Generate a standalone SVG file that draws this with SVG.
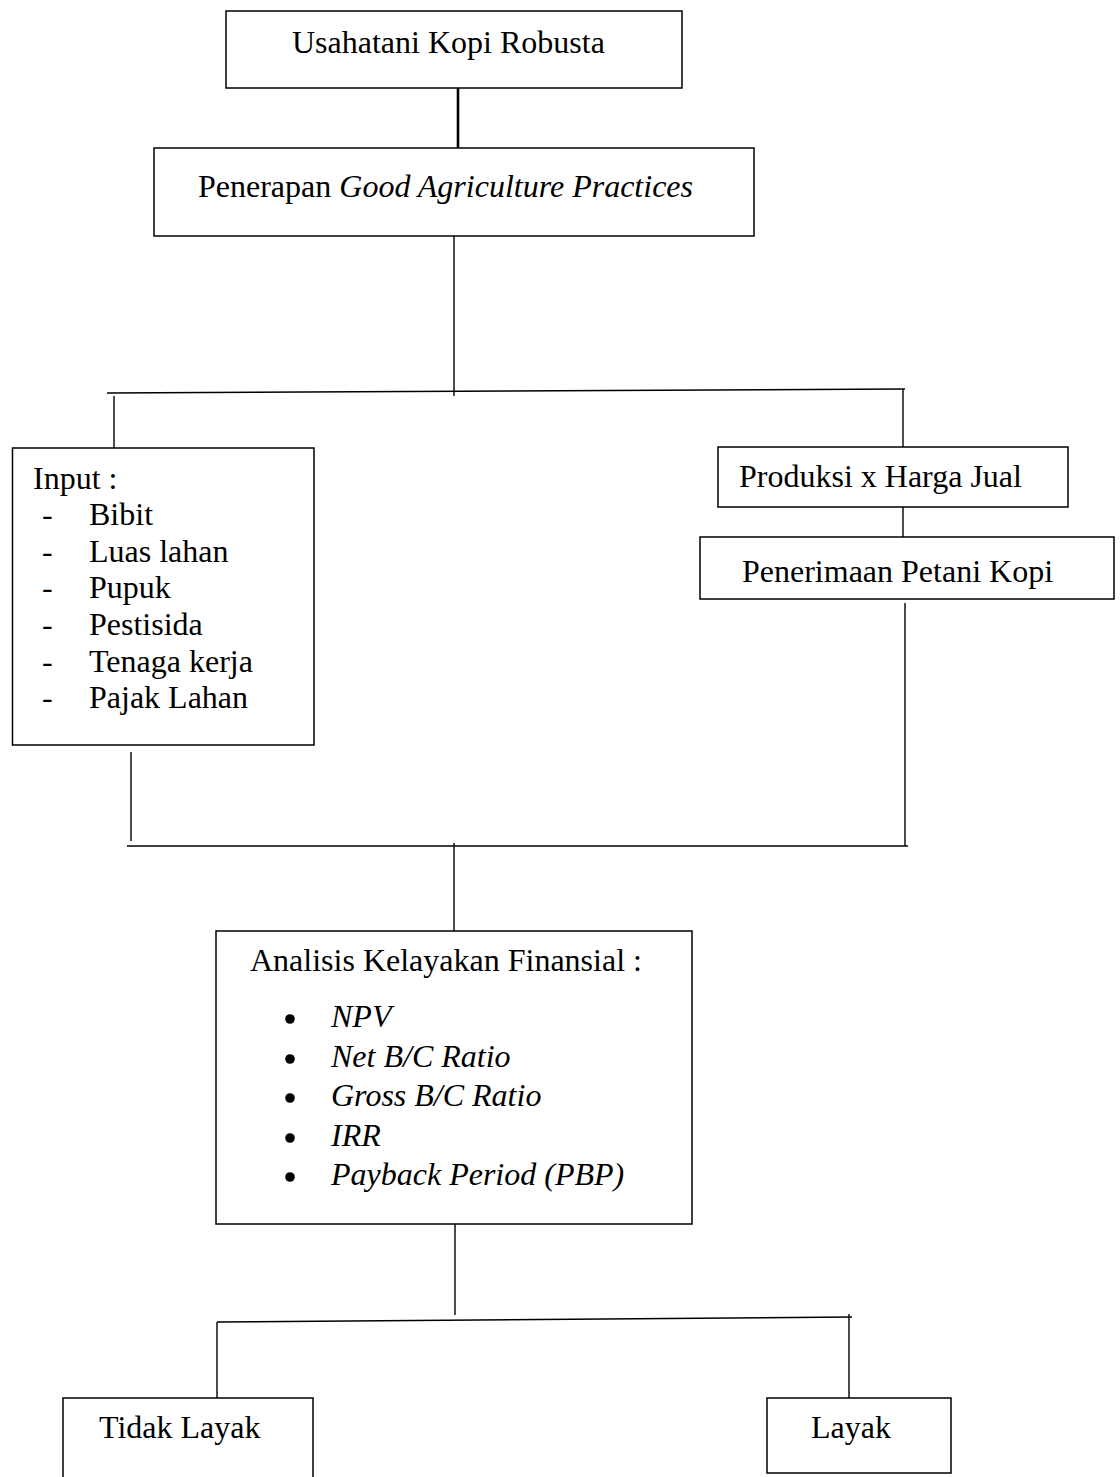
<svg xmlns="http://www.w3.org/2000/svg" width="1120" height="1477" viewBox="0 0 1120 1477">
<style>
  .box { fill: #ffffff; stroke: #000000; stroke-width: 1.5; }
  .ln { stroke: #000000; stroke-width: 1.4; fill: none; }
  .t { font-family: "Liberation Serif", "Times New Roman", serif; font-size: 32px; fill: #000000; }
  .i { font-style: italic; }
</style>
<rect width="1120" height="1477" fill="#ffffff"/>
<g id="connectors">
  <line class="ln" x1="458" y1="84" x2="458" y2="148" style="stroke-width:2.6"/>
  <line class="ln" x1="454" y1="236" x2="454" y2="396"/>
  <line class="ln" x1="107" y1="393" x2="905" y2="389"/>
  <line class="ln" x1="114" y1="396" x2="114" y2="448"/>
  <line class="ln" x1="903" y1="389" x2="903" y2="447"/>
  <line class="ln" x1="903" y1="507" x2="903" y2="537"/>
  <line class="ln" x1="905" y1="603" x2="905" y2="846"/>
  <line class="ln" x1="131" y1="752" x2="131" y2="841"/>
  <line class="ln" x1="127" y1="846" x2="908" y2="846"/>
  <line class="ln" x1="454" y1="843" x2="454" y2="931"/>
  <line class="ln" x1="455" y1="1224" x2="455" y2="1315"/>
  <line class="ln" x1="217" y1="1322" x2="852" y2="1317"/>
  <line class="ln" x1="217" y1="1322" x2="217" y2="1398"/>
  <line class="ln" x1="849" y1="1314" x2="849" y2="1398"/>
</g>
<g id="node-usahatani">
  <rect class="box" x="226" y="11" width="456" height="77"/>
  <text class="t" x="292" y="53">Usahatani Kopi Robusta</text>
</g>
<g id="node-gap">
  <rect class="box" x="154" y="148" width="600" height="88"/>
  <text class="t" x="198" y="197">Penerapan <tspan class="i">Good Agriculture Practices</tspan></text>
</g>
<g id="node-input">
  <rect class="box" x="12.5" y="448" width="301.5" height="297"/>
  <text class="t" x="33" y="489">Input :</text>
  <text class="t" x="42" y="525">-</text><text class="t" x="89" y="525">Bibit</text>
  <text class="t" x="42" y="562">-</text><text class="t" x="89" y="562">Luas lahan</text>
  <text class="t" x="42" y="598">-</text><text class="t" x="89" y="598">Pupuk</text>
  <text class="t" x="42" y="635">-</text><text class="t" x="89" y="635">Pestisida</text>
  <text class="t" x="42" y="672">-</text><text class="t" x="89" y="672">Tenaga kerja</text>
  <text class="t" x="42" y="708">-</text><text class="t" x="89" y="708">Pajak Lahan</text>
</g>
<g id="node-produksi">
  <rect class="box" x="718" y="447" width="350" height="60"/>
  <text class="t" x="739" y="487">Produksi x Harga Jual</text>
</g>
<g id="node-penerimaan">
  <rect class="box" x="700" y="537" width="414" height="62"/>
  <text class="t" x="742" y="582">Penerimaan Petani Kopi</text>
</g>
<g id="node-analisis">
  <rect class="box" x="216" y="931" width="476" height="293"/>
  <text class="t" x="250" y="971">Analisis Kelayakan Finansial :</text>
  <circle cx="290" cy="1019" r="4.8"/><text class="t i" x="331" y="1027">NPV</text>
  <circle cx="290" cy="1059" r="4.8"/><text class="t i" x="331" y="1067">Net B/C Ratio</text>
  <circle cx="290" cy="1098" r="4.8"/><text class="t i" x="331" y="1106">Gross B/C Ratio</text>
  <circle cx="290" cy="1138" r="4.8"/><text class="t i" x="331" y="1146">IRR</text>
  <circle cx="290" cy="1177" r="4.8"/><text class="t i" x="331" y="1185">Payback Period (PBP)</text>
</g>
<g id="node-tidak-layak">
  <rect class="box" x="63" y="1398" width="250" height="100"/>
  <text class="t" x="99" y="1438">Tidak Layak</text>
</g>
<g id="node-layak">
  <rect class="box" x="767" y="1398" width="184" height="75"/>
  <text class="t" x="811" y="1438">Layak</text>
</g>
</svg>
